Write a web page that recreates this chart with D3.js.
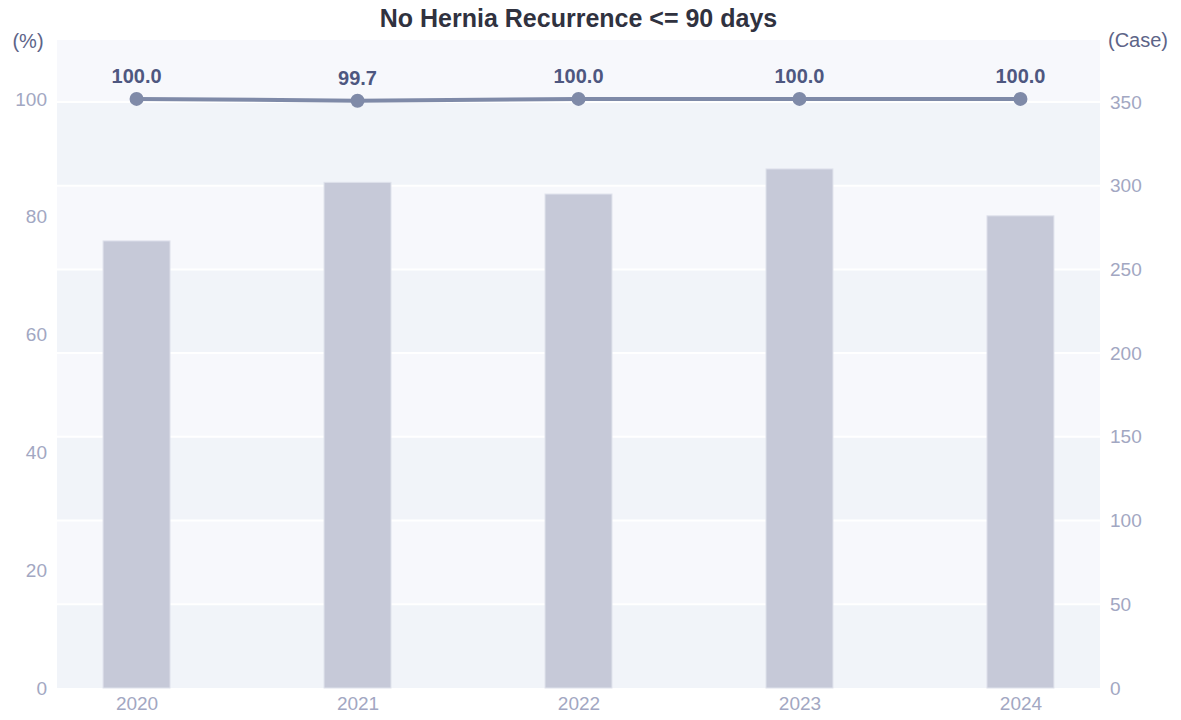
<!DOCTYPE html>
<html>
<head>
<meta charset="utf-8">
<script src="https://cdn.jsdelivr.net/npm/d3@7"></script>
<style>
  html, body { margin: 0; padding: 0; background: #fff; }
  svg { display: block; font-family: "Liberation Sans", Arial, sans-serif; }
</style>
</head>
<body>
<div id="chart"></div>
<script>
// Data
var years = ['2020', '2021', '2022', '2023', '2024'];
var cases = [267, 302, 295, 310, 282];
var rates = [100.0, 99.7, 100.0, 100.0, 100.0];
var pctTicks = [0, 20, 40, 60, 80, 100];
var caseTicks = [0, 50, 100, 150, 200, 250, 300, 350];

var W = 1181, H = 720;
var plotL = 57, plotR = 1100, plotT = 40, plotB = 688;

var svg = d3.select('#chart').append('svg')
  .attr('width', W).attr('height', H);

var x = d3.scalePoint().domain(years).range([plotL, plotR]).padding(0.36);
var yPct = d3.scaleLinear().domain([0, 110]).range([plotB, plotT]);
var yCase = d3.scaleLinear().domain([0, 387]).range([plotB, plotT]);

// Alternating background bands, following the right axis grid
var edges = caseTicks.concat([yCase.domain()[1]]);
for (var i = 0; i < edges.length - 1; i++) {
  svg.append('rect')
    .attr('x', plotL).attr('width', plotR - plotL)
    .attr('y', yCase(edges[i + 1]))
    .attr('height', yCase(edges[i]) - yCase(edges[i + 1]))
    .attr('fill', i % 2 === 0 ? '#f1f4f9' : '#f7f8fc');
}

// White grid lines
svg.selectAll('.grid')
  .data(caseTicks.filter(function(t) { return t > 0; }))
  .enter().append('line')
  .attr('x1', plotL).attr('x2', plotR)
  .attr('y1', function(d) { return yCase(d); })
  .attr('y2', function(d) { return yCase(d); })
  .attr('stroke', '#fff').attr('stroke-width', 2);

// Bars (case count)
var barW = x.step() * 0.303;
svg.selectAll('.bar')
  .data(years)
  .enter().append('rect')
  .attr('class', 'bar')
  .attr('x', function(d) { return x(d) - barW / 2; })
  .attr('width', barW)
  .attr('y', function(d, i) { return yCase(cases[i]); })
  .attr('height', function(d, i) { return plotB - yCase(cases[i]); })
  .attr('fill', '#c6c9d8')
  .attr('stroke', '#dfe2ec').attr('stroke-width', 1);

// Line (rate)
var line = d3.line()
  .x(function(d, i) { return x(years[i]); })
  .y(function(d) { return yPct(d); });

svg.append('path')
  .datum(rates)
  .attr('d', line)
  .attr('fill', 'none')
  .attr('stroke', '#7f8aa8')
  .attr('stroke-width', 4);

svg.selectAll('.dot')
  .data(rates)
  .enter().append('circle')
  .attr('cx', function(d, i) { return x(years[i]); })
  .attr('cy', function(d) { return yPct(d); })
  .attr('r', 7)
  .attr('fill', '#7f8aa8');

svg.selectAll('.val')
  .data(rates)
  .enter().append('text')
  .attr('x', function(d, i) { return x(years[i]); })
  .attr('y', function(d) { return yPct(d) - 16; })
  .attr('text-anchor', 'middle')
  .attr('font-size', '20px')
  .attr('font-weight', 'bold')
  .attr('fill', '#4e5780')
  .text(function(d) { return d.toFixed(1); });

// Axes
var tickColor = '#a2a7c2';

var axL = svg.append('g').attr('transform', 'translate(' + plotL + ',0)')
  .call(d3.axisLeft(yPct).tickValues(pctTicks).tickSize(0).tickPadding(10));
axL.select('.domain').remove();
axL.selectAll('text').attr('font-size', '19px').attr('fill', tickColor)
  .attr('font-family', '"Liberation Sans", Arial, sans-serif');

var axR = svg.append('g').attr('transform', 'translate(' + plotR + ',0)')
  .call(d3.axisRight(yCase).tickValues(caseTicks).tickSize(0).tickPadding(10));
axR.select('.domain').remove();
axR.selectAll('text').attr('font-size', '19px').attr('fill', tickColor)
  .attr('font-family', '"Liberation Sans", Arial, sans-serif');

var axB = svg.append('g').attr('transform', 'translate(0,' + plotB + ')')
  .call(d3.axisBottom(x).tickSize(0).tickPadding(9));
axB.select('.domain').remove();
axB.selectAll('text').attr('font-size', '19px').attr('fill', tickColor)
  .attr('font-family', '"Liberation Sans", Arial, sans-serif');

// Axis units
svg.append('text')
  .attr('x', 28).attr('y', 48)
  .attr('text-anchor', 'middle')
  .attr('font-size', '20px').attr('fill', '#5d6488')
  .text('(%)');

svg.append('text')
  .attr('x', 1138).attr('y', 47)
  .attr('text-anchor', 'middle')
  .attr('font-size', '20px').attr('fill', '#5d6488')
  .text('(Case)');

// Title
svg.append('text')
  .attr('x', (plotL + plotR) / 2).attr('y', 27)
  .attr('text-anchor', 'middle')
  .attr('font-size', '25px').attr('font-weight', 'bold')
  .attr('fill', '#30323f')
  .text('No Hernia Recurrence <= 90 days');
</script>
</body>
</html>
